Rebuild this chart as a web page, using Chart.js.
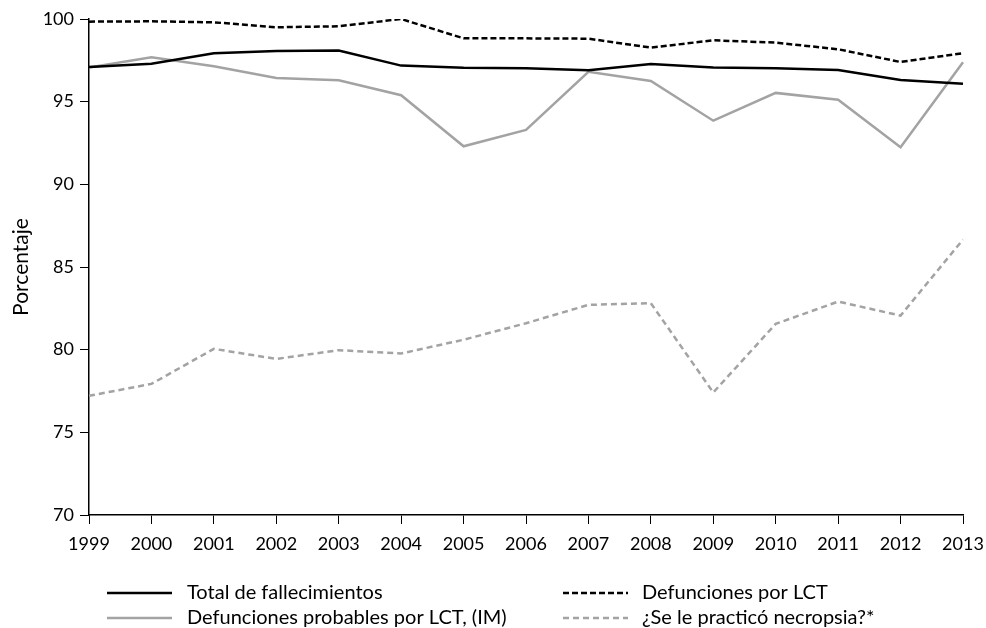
<!DOCTYPE html>
<html>
<head>
<meta charset="utf-8">
<script src="https://cdn.jsdelivr.net/npm/chart.js@4/dist/chart.umd.min.js"></script>
<style>
html,body{margin:0;padding:0;background:#fff;}
#wrap{width:986px;height:628px;position:relative;}
</style>
</head>
<body>
<div id="wrap"><canvas id="c" width="986" height="628"></canvas></div>
<script>
const years = ['1999','2000','2001','2002','2003','2004','2005','2006','2007','2008','2009','2010','2011','2012','2013'];
const totalFallecimientos = [97.1,97.3,97.93,98.07,98.1,97.18,97.05,97.02,96.9,97.28,97.06,97.02,96.92,96.31,96.09];
const defuncionesLCT = [99.84,99.86,99.8,99.5,99.56,100.0,98.83,98.83,98.81,98.27,98.71,98.57,98.17,97.4,97.93];
const defuncionesIM = [97.06,97.68,97.14,96.43,96.29,95.39,92.3,93.29,96.81,96.25,93.85,95.53,95.12,92.24,97.38];
const necropsia = [77.21,77.93,80.05,79.44,79.97,79.77,80.6,81.6,82.71,82.81,77.41,81.56,82.91,82.06,86.66];
const yTicks = [70,75,80,85,90,95,100];
const seriesNames = ['Total de fallecimientos','Defunciones por LCT','Defunciones probables por LCT, (IM)','¿Se le practicó necropsia?*'];

const FONT = 'Lato, "Open Sans", sans-serif';
const BLACK = '#000000';
const GRAY = '#a3a3a3';

const legendPlugin = {
  id: 'twoColLegend',
  afterDraw(chart) {
    const ctx = chart.ctx;
    const pos = [
      {x1:107, x2:172, tx:187, y:593},
      {x1:563, x2:628, tx:642, y:593},
      {x1:107, x2:172, tx:187, y:618},
      {x1:563, x2:628, tx:642, y:618}
    ];
    chart.data.datasets.forEach((ds, i) => {
      const p = pos[i];
      ctx.save();
      ctx.strokeStyle = ds.borderColor;
      ctx.lineWidth = ds.borderWidth;
      ctx.setLineDash(ds.borderDash || []);
      ctx.beginPath();
      ctx.moveTo(p.x1, p.y);
      ctx.lineTo(p.x2, p.y);
      ctx.stroke();
      ctx.setLineDash([]);
      ctx.fillStyle = '#000';
      ctx.font = '20px ' + FONT;
      ctx.textBaseline = 'middle';
      ctx.textAlign = 'left';
      ctx.fillText(ds.label, p.tx, p.y);
      ctx.restore();
    });
  }
};

new Chart(document.getElementById('c'), {
  type: 'line',
  data: {
    labels: years,
    datasets: [
      {label: seriesNames[0], data: totalFallecimientos, borderColor: BLACK, borderWidth: 2.5, borderDash: []},
      {label: seriesNames[1], data: defuncionesLCT, borderColor: BLACK, borderWidth: 2.5, borderDash: [6,3]},
      {label: seriesNames[2], data: defuncionesIM, borderColor: GRAY, borderWidth: 2.5, borderDash: []},
      {label: seriesNames[3], data: necropsia, borderColor: GRAY, borderWidth: 2.5, borderDash: [6,4]}
    ]
  },
  options: {
    responsive: false,
    animation: false,
    devicePixelRatio: 1,
    layout: {padding: {top: 19, right: 23, left: 0, bottom: 0}},
    elements: {point: {radius: 0}, line: {tension: 0, fill: false, borderCapStyle: 'butt', borderJoinStyle: 'miter'}},
    plugins: {legend: {display: false}, tooltip: {enabled: false}},
    scales: {
      x: {
        type: 'category',
        offset: false,
        grid: {display: true, drawOnChartArea: false, drawTicks: true, tickLength: 9, color: '#000', lineWidth: 1},
        border: {display: true, color: '#000', width: 1.5},
        ticks: {color: '#000', font: {family: FONT, size: 18}, padding: 9, maxRotation: 0, autoSkip: false},
        afterFit(scale) { scale.height = 113; scale.paddingRight = 0; scale.paddingLeft = 0; }
      },
      y: {
        min: 70, max: 100,
        grid: {display: true, drawOnChartArea: false, drawTicks: true, tickLength: 9, color: '#000', lineWidth: 1},
        border: {display: true, color: '#000', width: 1.5},
        afterBuildTicks(scale) { scale.ticks = yTicks.map(v => ({value: v})); },
        ticks: {color: '#000', font: {family: FONT, size: 18}, padding: 6},
        title: {display: true, text: 'Porcentaje', color: '#000', font: {family: FONT, size: 21}, padding: {top: 9, bottom: 0}},
        afterFit(scale) { scale.width = 89; scale.paddingTop = 0; scale.paddingBottom = 0; }
      }
    }
  },
  plugins: [legendPlugin]
});
</script>
</body>
</html>
